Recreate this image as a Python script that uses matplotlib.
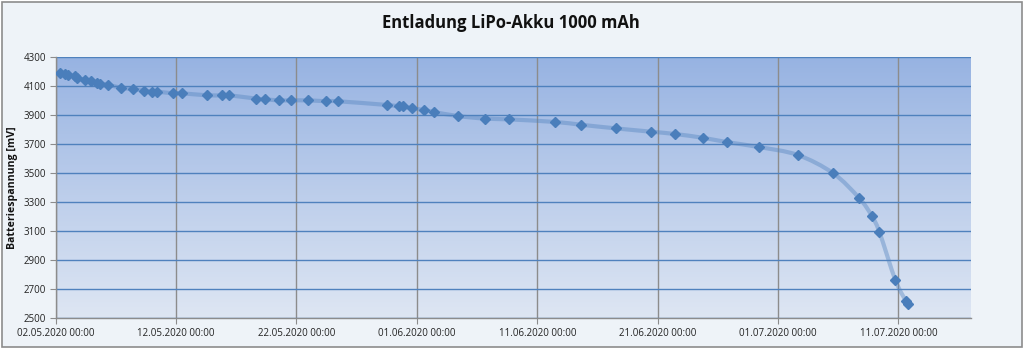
import matplotlib
matplotlib.use("Agg")
import matplotlib.pyplot as plt
import matplotlib.dates as mdates
from matplotlib.path import Path
from matplotlib.patches import PathPatch, Rectangle
import numpy as np
import pandas as pd

title = "Entladung LiPo-Akku 1000 mAh"
ylabel = "Batteriespannung [mV]"

timestamps = [
    "2020-05-02 09:00", "2020-05-02 18:00", "2020-05-03 01:00", "2020-05-03 14:00",
    "2020-05-03 18:00", "2020-05-04 10:00", "2020-05-04 23:00", "2020-05-05 10:00",
    "2020-05-05 16:00", "2020-05-06 09:00", "2020-05-07 10:00", "2020-05-08 11:00",
    "2020-05-09 08:00", "2020-05-09 23:00", "2020-05-10 10:30", "2020-05-11 17:00",
    "2020-05-12 11:00", "2020-05-14 13:00", "2020-05-15 19:00", "2020-05-16 10:00",
    "2020-05-18 15:30", "2020-05-19 10:00", "2020-05-20 13:30", "2020-05-21 13:00",
    "2020-05-22 23:30", "2020-05-24 11:00", "2020-05-25 10:00", "2020-05-29 13:00",
    "2020-05-30 12:00", "2020-05-30 20:00", "2020-05-31 14:30", "2020-06-01 14:00",
    "2020-06-02 10:00", "2020-06-04 09:30", "2020-06-06 16:30", "2020-06-08 15:30",
    "2020-06-12 12:00", "2020-06-14 14:30", "2020-06-17 12:00", "2020-06-20 10:30",
    "2020-06-22 10:30", "2020-06-24 18:00", "2020-06-26 18:00", "2020-06-29 10:30",
    "2020-07-02 15:30", "2020-07-05 14:00", "2020-07-07 18:00", "2020-07-08 18:30",
    "2020-07-09 10:00", "2020-07-10 18:00", "2020-07-11 15:00", "2020-07-11 19:30",
]
voltage_mv = [
    4190, 4182, 4175, 4170,
    4160, 4145, 4135, 4125,
    4118, 4110, 4090, 4080,
    4070, 4063, 4063, 4052,
    4052, 4038, 4038, 4038,
    4015, 4010, 4003, 4003,
    4003, 3997, 3997, 3971,
    3962, 3962, 3948, 3937,
    3923, 3895, 3877, 3872,
    3854, 3835, 3810, 3787,
    3771, 3745, 3715, 3681,
    3626, 3500, 3328, 3208,
    3095, 2762, 2619, 2598,
]
x_ticks = ["2020-05-02", "2020-05-12", "2020-05-22", "2020-06-01",
           "2020-06-11", "2020-06-21", "2020-07-01", "2020-07-11"]
x_range = ["2020-05-02", "2020-07-17"]
y_ticks = list(range(2500, 4301, 200))

BG = "#EEF3F8"
LINE = "#4F81BD"

fig = plt.figure(figsize=(10.24, 3.49), dpi=100)
fig.patch.set_facecolor("white")
fig.patches.append(Rectangle((2 / 1024, 2 / 349), 1020 / 1024, 345 / 349,
                             transform=fig.transFigure, facecolor=BG,
                             edgecolor="#8C8C8C", linewidth=1.2, zorder=-10))

ax = fig.add_axes([55.7 / 1024, 1 - 318.3 / 349, 915 / 1024, 261 / 349])
ax.set_facecolor("none")

# gradient background
grad = np.linspace(0, 1, 256).reshape(-1, 1)
top = np.array([0x97, 0xB3, 0xE2]) / 255
bot = np.array([0xDE, 0xE6, 0xF3]) / 255
img = top[None, None, :] * (1 - grad[:, :, None]) + bot[None, None, :] * grad[:, :, None]
ax.imshow(img, extent=[0, 1, 0, 1], transform=ax.transAxes, aspect="auto",
          zorder=0, interpolation="bilinear")

xd = mdates.date2num(pd.to_datetime(timestamps))
yd = np.array(voltage_mv, dtype=float)

# smooth line (Catmull-Rom -> cubic Bezier) through the data points
verts = [(xd[0], yd[0])]
codes = [Path.MOVETO]
n = len(xd)
for i in range(n - 1):
    p0 = np.array([xd[max(i - 1, 0)], yd[max(i - 1, 0)]])
    p1 = np.array([xd[i], yd[i]])
    p2 = np.array([xd[i + 1], yd[i + 1]])
    p3 = np.array([xd[min(i + 2, n - 1)], yd[min(i + 2, n - 1)]])
    c1 = p1 + (p2 - p0) / 6.0
    c2 = p2 - (p3 - p1) / 6.0
    verts += [tuple(c1), tuple(c2), tuple(p2)]
    codes += [Path.CURVE4] * 3
ax.add_patch(PathPatch(Path(verts, codes), facecolor="none", edgecolor=LINE,
                       alpha=0.4, linewidth=3.0, zorder=3, capstyle="round"))
ax.plot(xd, yd, linestyle="none", marker="D", markersize=5.4,
        color="#4A7EBB", markeredgecolor="#4A7EBB", zorder=4)

ax.set_xlim(mdates.date2num(pd.to_datetime(x_range)))
ax.set_ylim(2500, 4300)
ax.set_yticks(y_ticks)
ax.set_xticks(mdates.date2num(pd.to_datetime(x_ticks)))
ax.xaxis.set_major_formatter(mdates.DateFormatter("%d.%m.%Y %H:%M"))

ax.grid(axis="y", color=LINE, linewidth=1.0, zorder=1)
ax.grid(axis="x", color="#8C8C8C", linewidth=1.0, zorder=1)
ax.set_axisbelow(True)
for s in ["top", "right"]:
    ax.spines[s].set_visible(False)
for s in ["left", "bottom"]:
    ax.spines[s].set_color("#8C8C8C")
    ax.spines[s].set_linewidth(1.0)
ax.tick_params(axis="both", direction="out", length=4, color="#8C8C8C",
               labelsize=7, labelcolor="#222222", pad=3)
for lab in ax.get_xticklabels() + ax.get_yticklabels():
    lab.set_family("Open Sans")

ax.set_ylabel(ylabel, fontsize=7.6, fontweight="bold", family="Open Sans",
              color="#111111")
ax.yaxis.set_label_coords((18 - 55.7) / 915, 0.5)
fig.text(511 / 1024, 1 - 23 / 349, title, ha="center", va="center",
         fontsize=12, fontweight="bold", family="Open Sans", color="#111111")

fig.savefig("out.png", dpi=100, facecolor=fig.get_facecolor())
